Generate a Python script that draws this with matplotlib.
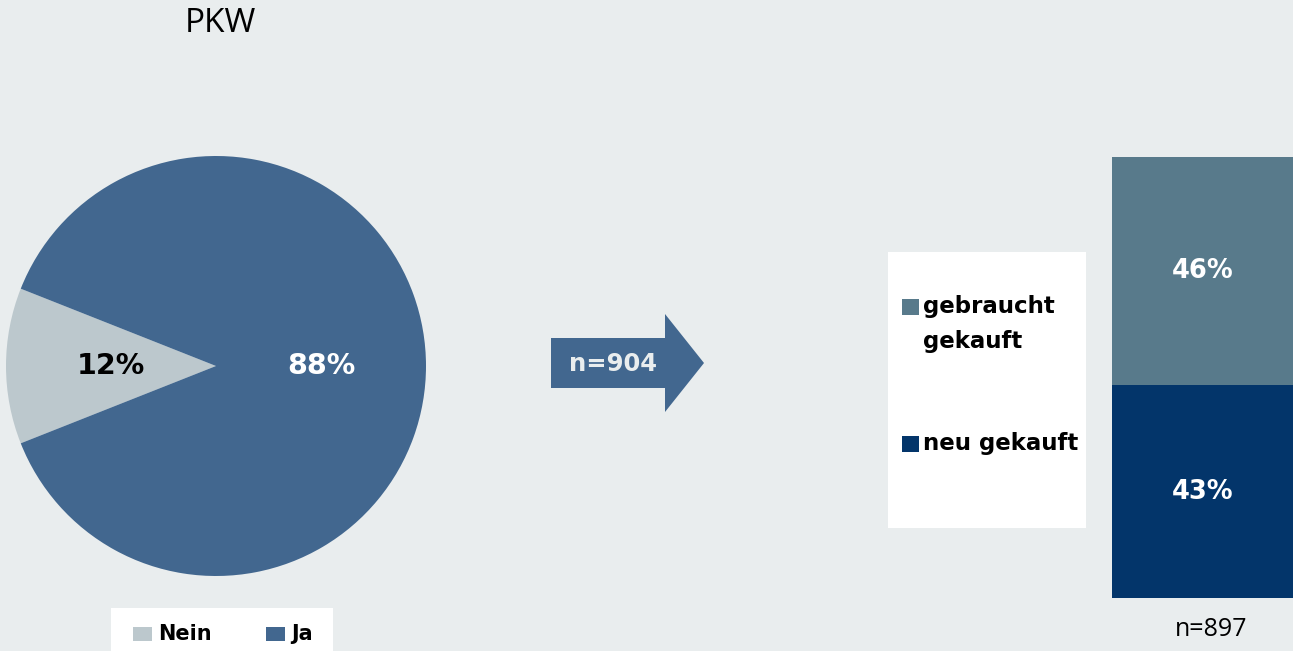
import matplotlib
matplotlib.use("Agg")
import matplotlib.pyplot as plt
from matplotlib.patches import Polygon, Rectangle

# ---- data ----
pie_labels = ["Nein", "Ja"]
pie_values = [12, 88]
n_pie = "n=904"
bar_labels = ["neu gekauft", "gebraucht\ngekauft"]
bar_values = [43, 46]
n_bar = "n=897"
title = "PKW"

# ---- style ----
W, H = 1293, 651
BG = "#E9EDEE"
pie_colors = ["#BCC8CD", "#42678F"]
bar_colors = ["#03356A", "#587A8B"]
BOLD = "DejaVu Sans"

fig = plt.figure(figsize=(W / 100, H / 100), dpi=100, facecolor=BG)

def fx(x):
    return x / W

def fy(y):
    return 1 - y / H

# ---- pie ----
cx, cy, r = 216, 366, 210
ax_pie = fig.add_axes([fx(cx - r), fy(cy + r), 2 * r / W, 2 * r / H])
ax_pie.set_facecolor(BG)
start = 180 - pie_values[0] / sum(pie_values) * 360 / 2
wedges, texts, autotexts = ax_pie.pie(
    pie_values, colors=pie_colors, startangle=start, counterclock=True,
    autopct=lambda p: f"{p:.0f}%", pctdistance=0.5, radius=1,
    wedgeprops=dict(linewidth=0),
    textprops=dict(fontsize=20.5, fontweight="bold", family=BOLD))
autotexts[0].set_color("black")
autotexts[1].set_color("white")
ax_pie.set_xlim(-1, 1)
ax_pie.set_ylim(-1, 1)
ax_pie.set_aspect("equal")
ax_pie.axis("off")

fig.text(fx(220), fy(24), title, ha="center", va="center",
         fontsize=24, family="Open Sans", color="black")

# bottom legend for pie
fig.patches.append(Rectangle((fx(111), fy(651)), (333 - 111) / W, (651 - 608) / H,
                             transform=fig.transFigure, facecolor="white",
                             edgecolor="none", zorder=1))
leg_sq_x = [133, 266]
leg_txt_x = [158, 291]
for i, lab in enumerate(pie_labels):
    fig.patches.append(Rectangle((fx(leg_sq_x[i]), fy(641)), 19 / W, 14 / H,
                                 transform=fig.transFigure, facecolor=pie_colors[i],
                                 edgecolor="none", zorder=2))
    fig.text(fx(leg_txt_x[i]), fy(634), lab, ha="left", va="center",
             fontsize=15, fontweight="bold", family=BOLD, color="black", zorder=3)

# ---- arrow ----
pts = [(551, 338), (665, 338), (665, 314), (704, 363), (665, 412), (665, 388), (551, 388)]
fig.patches.append(Polygon([(fx(x), fy(y)) for x, y in pts], closed=True,
                           transform=fig.transFigure, facecolor=pie_colors[1],
                           edgecolor="none"))
fig.text(fx(613), fy(364), n_pie, ha="center", va="center", fontsize=17.5,
         fontweight="bold", family=BOLD, color="#E9EDEE")

# ---- stacked bar ----
bx0, bx1, by0, by100 = 1112, 1293, 598, 103
ax_bar = fig.add_axes([fx(bx0), fy(by0), (bx1 - bx0) / W, (by0 - by100) / H])
ax_bar.set_xlim(-0.5, 0.5)
ax_bar.set_ylim(0, 100)
ax_bar.axis("off")
bottom = 0
for v, c in zip(bar_values, bar_colors):
    ax_bar.bar(0, v, width=1, bottom=bottom, color=c, linewidth=0)
    ax_bar.text(0, bottom + v / 2, f"{v}%", ha="center", va="center",
                fontsize=18.5, fontweight="bold", family=BOLD, color="white")
    bottom += v

fig.text(fx(1211), fy(629), n_bar, ha="center", va="center", fontsize=18,
         family="Open Sans", color="black")

# right legend
fig.patches.append(Rectangle((fx(888), fy(528)), (1086 - 888) / W, (528 - 252) / H,
                             transform=fig.transFigure, facecolor="white",
                             edgecolor="none", zorder=1))
leg_y = {1: 306, 0: 443}
for i, lab in enumerate(bar_labels):
    y = leg_y[i]
    fig.patches.append(Rectangle((fx(902), fy(y + 9)), 17 / W, 16 / H,
                                 transform=fig.transFigure, facecolor=bar_colors[i],
                                 edgecolor="none", zorder=2))
    fig.text(fx(923), fy(y - 11), lab, ha="left", va="top", fontsize=16.5,
             fontweight="bold", family=BOLD, color="black", linespacing=1.68, zorder=3)

fig.savefig("out.png", dpi=100, facecolor=BG)
